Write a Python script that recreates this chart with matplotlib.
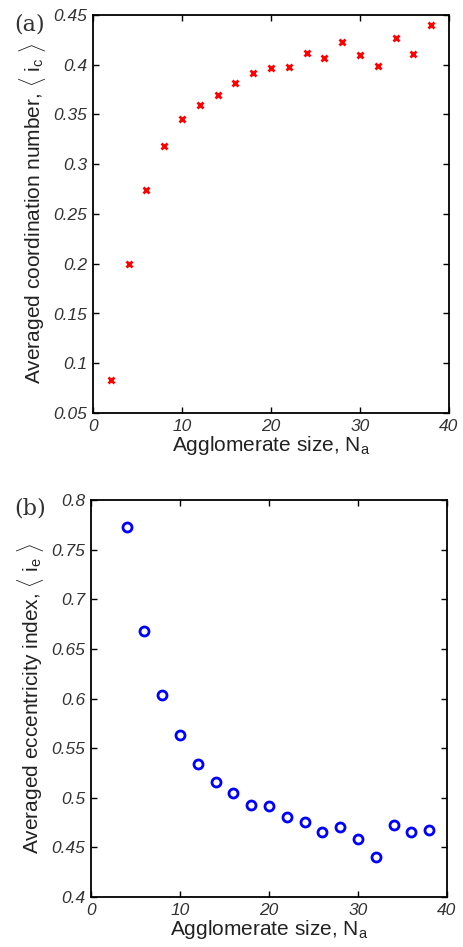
import matplotlib.pyplot as plt
import numpy as np

plt.rcParams['font.family'] = ['Liberation Sans', 'DejaVu Sans']
plt.rcParams['mathtext.fontset'] = 'custom'
plt.rcParams['mathtext.rm'] = 'Liberation Sans'
plt.rcParams['mathtext.it'] = 'Liberation Sans:italic'

# Данные (a): средний координационный индекс
size_a = [2, 4, 6, 8, 10, 12, 14, 16, 18, 20, 22, 24, 26, 28, 30, 32, 34, 36, 38]
coord = [0.083, 0.200, 0.274, 0.318, 0.345, 0.360, 0.370, 0.382, 0.392, 0.397,
         0.398, 0.412, 0.407, 0.423, 0.410, 0.399, 0.427, 0.411, 0.440]

# Данные (b): средний индекс эксцентриситета
size_b = [4, 6, 8, 10, 12, 14, 16, 18, 20, 22, 24, 26, 28, 30, 32, 34, 36, 38]
ecc = [0.773, 0.668, 0.604, 0.563, 0.534, 0.516, 0.505, 0.493, 0.492, 0.481,
       0.476, 0.465, 0.471, 0.458, 0.440, 0.473, 0.465, 0.468]

yticks_a = [0.05, 0.1, 0.15, 0.2, 0.25, 0.3, 0.35, 0.4, 0.45]
yticks_b = [0.4, 0.45, 0.5, 0.55, 0.6, 0.65, 0.7, 0.75, 0.8]
xticks = [0, 10, 20, 30, 40]

W, H = 463, 947
fig = plt.figure(figsize=(W / 100, H / 100), dpi=100)
ax1 = fig.add_axes([93 / W, 1 - 413 / H, 356 / W, 398 / H])
ax2 = fig.add_axes([91 / W, 1 - 897 / H, 356 / W, 397 / H])


def style(ax, yticks):
    ax.set_xlim(0, 40)
    ax.set_ylim(yticks[0], yticks[-1])
    ax.set_xticks(xticks)
    ax.set_yticks(yticks)
    ax.set_xticklabels([str(v) for v in xticks], style='italic', fontsize=12.5, color='#333333')
    ax.set_yticklabels([('%g' % v) for v in yticks], style='italic', fontsize=12.5, color='#333333')
    ax.tick_params(direction='in', top=True, right=True, length=4, width=1, pad=4)
    for s in ax.spines.values():
        s.set_linewidth(1.3)
    ax.set_xlabel(r'Agglomerate size, N$_\mathrm{a}$', fontsize=15, color='#222222', labelpad=0)


ax1.plot(size_a, coord, 'x', color='red', markersize=5, markeredgewidth=2)
style(ax1, yticks_a)
ax1.set_ylabel(r'Averaged coordination number, $\langle$ i$_\mathrm{c}$ $\rangle$',
               fontsize=15, color='#222222', labelpad=4)

ax2.plot(size_b, ecc, 'o', color='blue', markerfacecolor='white', markersize=6.5, markeredgewidth=2)
style(ax2, yticks_b)
ax2.set_ylabel(r'Averaged eccentricity index, $\langle$ i$_\mathrm{e}$ $\rangle$',
               fontsize=15, color='#222222', labelpad=4)

fig.text(14 / W, 1 - 24 / H, '(a)', family='DejaVu Serif', fontsize=16, va='center', color='#333333')
fig.text(14 / W, 1 - 509 / H, '(b)', family='DejaVu Serif', fontsize=16, va='center', color='#333333')

plt.savefig('out.png', dpi=100)
